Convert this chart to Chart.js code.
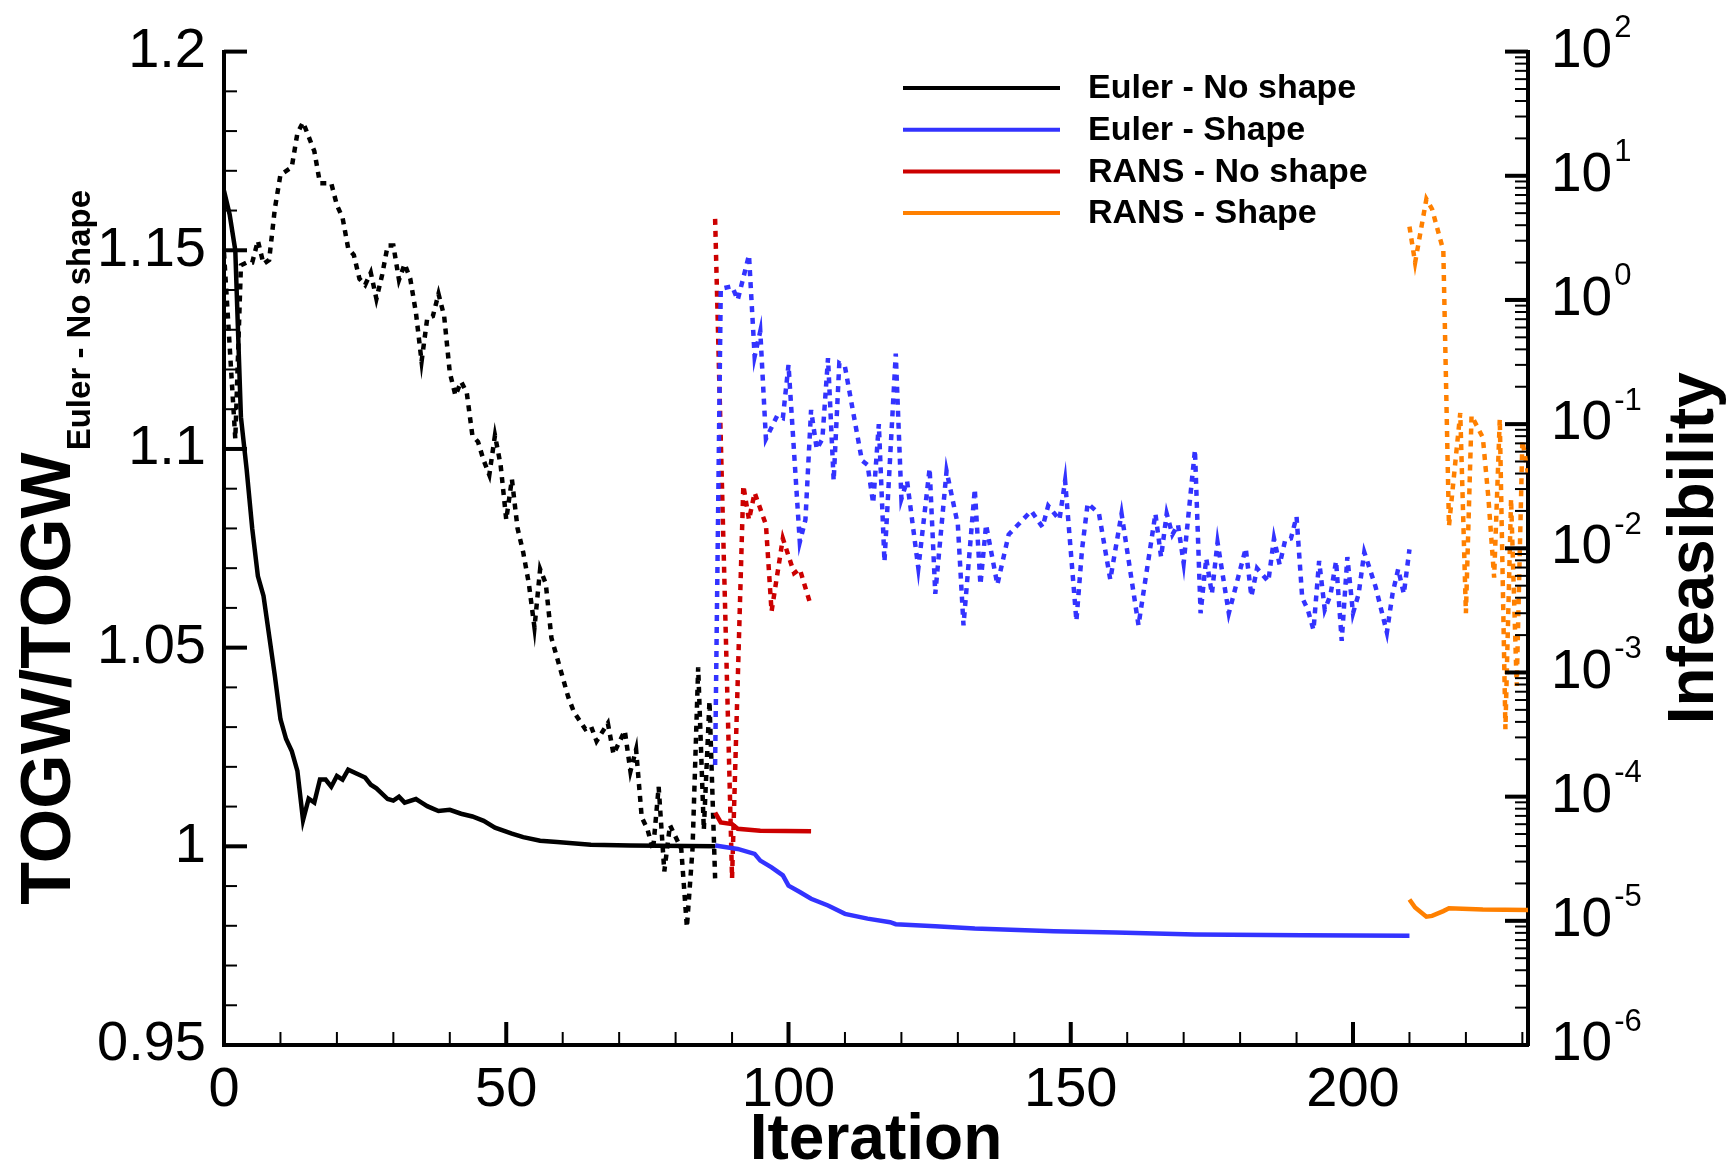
<!DOCTYPE html>
<html>
<head>
<meta charset="utf-8">
<script src="https://cdn.jsdelivr.net/npm/chart.js@4.4.1/dist/chart.umd.min.js"></script>
<style>
  html, body { margin: 0; padding: 0; background: #fff; }
  canvas { display: block; }
</style>
</head>
<body>
<canvas id="historyChart" width="1730" height="1168"></canvas>
<script>
// Axis ticks
const iterTicks = [0, 50, 100, 150, 200];
const togwTicks = [0.95, 1, 1.05, 1.1, 1.15, 1.2];
const infDecades = [-6, -5, -4, -3, -2, -1, 0, 1, 2];

// Euler - No shape
const eulerNoShapeIter = [0, 1, 2, 3, 4, 5, 6, 7, 9, 10, 11, 12, 13, 14, 15, 16, 17, 18, 19, 20, 21, 22, 25, 26, 27, 29, 30, 31, 32, 34, 35, 36, 37, 38, 40, 42, 44, 46, 48, 51, 53, 56, 59, 65, 72, 87];
const eulerNoShapeTogw = [1.165, 1.159, 1.150, 1.108, 1.095, 1.080, 1.068, 1.063, 1.043, 1.032, 1.027, 1.024, 1.019, 1.0066, 1.012, 1.011, 1.0168, 1.0168, 1.015, 1.0177, 1.0168, 1.0193, 1.0173, 1.0155, 1.0146, 1.0119, 1.0115, 1.0125, 1.011, 1.0119, 1.011, 1.0101, 1.0095, 1.0089, 1.0092, 1.0082, 1.0075, 1.0064, 1.0047, 1.0032, 1.0023, 1.0014, 1.0011, 1.0004, 1.0002, 1.0];
const eulerNoShapeInfIter = [0, 2, 3, 4, 5, 6, 7, 8, 9, 10, 12, 13, 14, 16, 17, 19, 20, 21, 22, 23, 24, 25, 26, 27, 28, 29, 30, 31, 32, 33, 34, 35, 36, 37, 38, 39, 40, 41, 42, 43, 44, 45, 46, 47, 48, 49, 50, 51, 52, 53, 54, 55, 56, 57, 58, 61, 62, 64, 65, 66, 68, 69, 71, 72, 73, 74, 75, 76, 77, 78, 79, 81, 82, 83, 84, 85, 86, 87];
const eulerNoShapeInf = [2.4, 0.076, 1.9, 2.0, 2.0, 3.0, 1.95, 2.1, 5.4, 10.2, 11.7, 22, 27, 15.8, 8.7, 8.7, 5.8, 4.6, 2.6, 2.3, 1.48, 1.32, 1.66, 1.02, 1.58, 2.75, 2.75, 1.45, 1.95, 1.48, 0.79, 0.32, 0.71, 0.74, 1.12, 0.74, 0.26, 0.17, 0.22, 0.18, 0.081, 0.072, 0.051, 0.039, 0.081, 0.047, 0.017, 0.036, 0.0145, 0.0093, 0.0052, 0.0023, 0.0068, 0.0052, 0.0019, 6.3e-4, 4.8e-4, 3.5e-4, 3.7e-4, 2.8e-4, 3.9e-4, 2.2e-4, 3.4e-4, 1.6e-4, 2.4e-4, 6.8e-5, 5.5e-5, 3.7e-5, 1.2e-4, 2.5e-5, 5.9e-5, 3.8e-5, 8.9e-6, 3.8e-5, 1.1e-3, 5.4e-5, 5.9e-4, 2.2e-5];

// Euler - Shape
const eulerShapeIter = [87, 91, 94, 95, 97, 99, 100, 102, 104, 107, 110, 114, 118, 119, 126, 133, 147, 158, 172, 191, 210];
const eulerShapeTogw = [1.0002, 0.99935, 0.9981, 0.9964, 0.9947, 0.9927, 0.9901, 0.9885, 0.9868, 0.9851, 0.983, 0.9818, 0.9809, 0.9804, 0.9799, 0.9793, 0.9786, 0.9783, 0.9778, 0.9776, 0.9775];
const eulerShapeInfIter = [87, 88, 90, 91, 92, 93, 94, 95, 96, 98, 99, 100, 102, 103, 104, 105, 106, 107, 108, 109, 110, 113, 114, 115, 116, 117, 119, 120, 121, 123, 125, 126, 128, 130, 131, 133, 134, 135, 137, 139, 143, 145, 146, 148, 149, 151, 152, 153, 155, 157, 159, 162, 165, 166, 167, 168, 169, 170, 172, 173, 174, 175, 176, 178, 181, 182, 183, 185, 186, 187, 188, 189, 190, 191, 192, 193, 194, 195, 196, 197, 198, 199, 200, 201, 202, 204, 206, 207, 208, 209, 210];
const eulerShapeInf = [1.8e-4, 1.23, 1.29, 1.0, 1.51, 2.3, 0.35, 0.56, 0.076, 0.117, 0.112, 0.30, 0.0112, 0.017, 0.13, 0.063, 0.076, 0.34, 0.035, 0.31, 0.29, 0.051, 0.047, 0.023, 0.10, 0.0078, 0.37, 0.025, 0.035, 0.0069, 0.044, 0.0043, 0.042, 0.0155, 0.0024, 0.030, 0.0051, 0.0155, 0.0051, 0.0129, 0.020, 0.0148, 0.022, 0.017, 0.035, 0.0026, 0.0098, 0.023, 0.019, 0.0056, 0.019, 0.0024, 0.019, 0.0085, 0.019, 0.0129, 0.0155, 0.0076, 0.062, 0.0030, 0.0083, 0.0043, 0.0112, 0.0030, 0.0100, 0.0041, 0.0069, 0.0054, 0.012, 0.0074, 0.0117, 0.012, 0.018, 0.0040, 0.0032, 0.0022, 0.0079, 0.0032, 0.0042, 0.0079, 0.0018, 0.0085, 0.0030, 0.0043, 0.0093, 0.0049, 0.0021, 0.0043, 0.0068, 0.0043, 0.0098];

// RANS - No shape
const ransNoShapeIter = [87, 88, 90, 91, 95, 104];
const ransNoShapeTogw = [1.0085, 1.006, 1.0056, 1.0044, 1.0039, 1.0038];
const ransNoShapeInfIter = [87, 90, 92, 93, 94, 96, 97, 99, 101, 102, 104];
const ransNoShapeInf = [4.5, 2.2e-5, 0.032, 0.017, 0.028, 0.0155, 0.0031, 0.012, 0.0063, 0.0068, 0.0034];

// RANS - Shape
const ransShapeIter = [210, 211, 213, 214, 216, 217, 223, 231];
const ransShapeTogw = [0.9866, 0.9846, 0.9823, 0.9825, 0.9837, 0.9844, 0.9841, 0.984];
const ransShapeInfIter = [210, 211, 213, 214, 216, 217, 219, 220, 221, 223, 224, 225, 226, 227, 228, 229, 230, 231];
const ransShapeInf = [3.9, 2.0, 6.5, 5.4, 2.5, 0.0151, 0.123, 0.0030, 0.117, 0.078, 0.025, 0.0058, 0.110, 3.5e-4, 0.025, 7.8e-4, 0.074, 0.040];

const FONT = '"Liberation Sans", Arial, Helvetica, sans-serif';
const toPoints = (xs, ys) => xs.map((x, i) => ({ x: x, y: ys[i] }));

function solid(label, xs, ys, color) {
  return {
    label: label,
    data: toPoints(xs, ys),
    yAxisID: "y",
    borderColor: color,
    borderWidth: 4.5,
    pointRadius: 0,
    tension: 0,
    showInLegend: true,
  };
}

function dotted(label, xs, ys, color) {
  return {
    label: label,
    data: toPoints(xs, ys),
    yAxisID: "y2",
    borderColor: color,
    borderWidth: 4.5,
    borderDash: [6, 6],
    pointRadius: 0,
    tension: 0,
    showInLegend: false,
  };
}

// Inward tick marks, log axis labels, axis titles and legend
const decorPlugin = {
  id: "decor",
  afterDraw(chart) {
    const { ctx, chartArea: area, scales } = chart;
    const xs = scales.x, ys = scales.y, ys2 = scales.y2;
    ctx.save();
    ctx.strokeStyle = "#000";
    ctx.lineCap = "butt";

    const tick = (x1, y1, x2, y2, w) => {
      ctx.lineWidth = w;
      ctx.beginPath();
      ctx.moveTo(x1, y1);
      ctx.lineTo(x2, y2);
      ctx.stroke();
    };

    // left axis: major every 0.05, minor every 0.01
    for (let k = 0; k <= 25; k++) {
      const py = ys.getPixelForValue(0.95 + k * 0.01);
      const major = k % 5 === 0;
      tick(area.left, py, area.left + (major ? 23 : 13), py, major ? 4 : 2);
    }
    // bottom axis: major every 50, minor every 10
    for (let k = 0; k * 10 <= xs.max; k++) {
      const px = xs.getPixelForValue(k * 10);
      const major = k % 5 === 0;
      tick(px, area.bottom, px, area.bottom - (major ? 23 : 13), major ? 4 : 2);
    }
    // right log axis
    infDecades.forEach((d) => {
      const py = ys2.getPixelForValue(Math.pow(10, d));
      tick(area.right, py, area.right - 23, py, 4);
      if (d < 2) {
        for (let m = 2; m <= 9; m++) {
          const pm = ys2.getPixelForValue(m * Math.pow(10, d));
          tick(area.right, pm, area.right - 13, pm, 2);
        }
      }
    });

    // right tick labels 10^n
    ctx.fillStyle = "#000";
    ctx.textAlign = "left";
    ctx.textBaseline = "middle";
    infDecades.forEach((d) => {
      const py = ys2.getPixelForValue(Math.pow(10, d));
      ctx.font = "55px " + FONT;
      ctx.fillText("10", area.right + 23, py);
      const w = ctx.measureText("10").width;
      ctx.font = "31px " + FONT;
      ctx.fillText(String(d), area.right + 25 + w, py - 23);
    });

    const cy = (area.top + area.bottom) / 2;

    // left title with subscript
    const main = "TOGW/TOGW";
    const sub = "Euler - No shape";
    ctx.save();
    ctx.translate(70, cy);
    ctx.rotate(-Math.PI / 2);
    ctx.textBaseline = "alphabetic";
    ctx.font = "bold 70px " + FONT;
    const w1 = ctx.measureText(main).width;
    ctx.font = "bold 33px " + FONT;
    const w2 = ctx.measureText(sub).width;
    const start = -(w1 + w2) / 2;
    ctx.font = "bold 70px " + FONT;
    ctx.fillText(main, start, 0);
    ctx.font = "bold 33px " + FONT;
    ctx.fillText(sub, start + w1 + 2, 20);
    ctx.restore();

    // right title
    ctx.save();
    ctx.translate(1713, cy);
    ctx.rotate(-Math.PI / 2);
    ctx.textAlign = "center";
    ctx.textBaseline = "alphabetic";
    ctx.font = "bold 64px " + FONT;
    ctx.fillText("Infeasibility", 0, 0);
    ctx.restore();

    // legend
    const entries = chart.data.datasets.filter((ds) => ds.showInLegend);
    ctx.font = "bold 34px " + FONT;
    ctx.textBaseline = "middle";
    entries.forEach((ds, i) => {
      const ly = 88 + i * 41.7;
      ctx.strokeStyle = ds.borderColor;
      tick(903, ly, 1060, ly, 4);
      ctx.fillStyle = "#000";
      ctx.fillText(ds.label, 1088, ly + 1);
    });
    ctx.restore();
  },
};

const ctx = document.getElementById("historyChart").getContext("2d");

const historyChart = new Chart(ctx, {
  type: "line",
  data: {
    datasets: [
      solid("Euler - No shape", eulerNoShapeIter, eulerNoShapeTogw, "#000000"),
      solid("Euler - Shape", eulerShapeIter, eulerShapeTogw, "#3333ff"),
      solid("RANS - No shape", ransNoShapeIter, ransNoShapeTogw, "#cc0000"),
      solid("RANS - Shape", ransShapeIter, ransShapeTogw, "#ff8000"),
      dotted("Euler - No shape infeasibility", eulerNoShapeInfIter, eulerNoShapeInf, "#000000"),
      dotted("Euler - Shape infeasibility", eulerShapeInfIter, eulerShapeInf, "#3333ff"),
      dotted("RANS - No shape infeasibility", ransNoShapeInfIter, ransNoShapeInf, "#cc0000"),
      dotted("RANS - Shape infeasibility", ransShapeInfIter, ransShapeInf, "#ff8000"),
    ],
  },
  options: {
    responsive: false,
    maintainAspectRatio: false,
    devicePixelRatio: 1,
    animation: false,
    layout: { padding: { top: 48, left: 0, right: 0, bottom: 0 } },
    plugins: {
      legend: { display: false },
      tooltip: { enabled: false },
    },
    scales: {
      x: {
        type: "linear",
        min: 0,
        max: 231,
        grid: { display: false, drawTicks: false },
        border: { display: true, color: "#000", width: 4 },
        afterBuildTicks: (s) => { s.ticks = iterTicks.map((v) => ({ value: v })); },
        afterFit: (s) => { s.height = 123; },
        ticks: {
          color: "#000",
          padding: 12,
          maxRotation: 0,
          autoSkip: false,
          font: { family: FONT, size: 56 },
          callback: (v) => String(v),
        },
        title: {
          display: true,
          text: "Iteration",
          color: "#000",
          padding: { top: 0, bottom: -5 },
          font: { family: FONT, size: 64, weight: "bold", lineHeight: 1 },
        },
      },
      y: {
        type: "linear",
        position: "left",
        min: 0.95,
        max: 1.2,
        grid: { display: false, drawTicks: false },
        border: { display: true, color: "#000", width: 4 },
        afterBuildTicks: (s) => { s.ticks = togwTicks.map((v) => ({ value: v })); },
        afterFit: (s) => { s.width = 224; },
        ticks: {
          color: "#000",
          padding: 18,
          autoSkip: false,
          font: { family: FONT, size: 56 },
          callback: (v) => String(+v.toFixed(2)),
        },
      },
      y2: {
        type: "logarithmic",
        position: "right",
        min: 1e-6,
        max: 1e2,
        grid: { display: false, drawTicks: false },
        border: { display: true, color: "#000", width: 4 },
        afterFit: (s) => { s.width = 202; },
        ticks: { display: false },
      },
    },
  },
  plugins: [decorPlugin],
});
</script>
</body>
</html>
